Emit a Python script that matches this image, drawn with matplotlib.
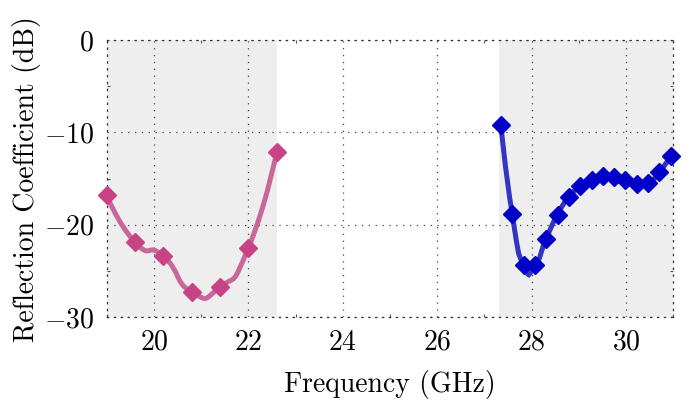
import numpy as np
import matplotlib
matplotlib.use("Agg")
import matplotlib.pyplot as plt
from matplotlib.path import Path
from matplotlib.patches import PathPatch
from matplotlib.ticker import MultipleLocator

plt.rcParams['font.family'] = 'serif'
plt.rcParams['font.serif'] = ['cmr10']
plt.rcParams['mathtext.fontset'] = 'cm'
plt.rcParams['axes.formatter.use_mathtext'] = True

# Data
freq_low = [19.0, 19.6, 20.2, 20.8, 21.4, 22.0, 22.6]
refl_low = [-16.8, -21.9, -23.4, -27.3, -26.75, -22.5, -12.1]

freq_high = [27.35, 27.59, 27.83, 28.07, 28.31, 28.55, 28.79, 29.03,
             29.27, 29.51, 29.75, 29.99, 30.23, 30.47, 30.71, 30.95]
refl_high = [-9.2, -18.85, -24.4, -24.4, -21.5, -18.9, -17.0, -15.85,
             -15.1, -14.75, -14.8, -15.2, -15.6, -15.5, -14.3, -12.5]

band_low = (19.0, 22.6)
band_high = (27.3, 31.0)

xticks = [20, 22, 24, 26, 28, 30]
yticks = [0, -10, -20, -30]


def smooth_path(xs, ys, k=0.31):
    p = np.column_stack([xs, ys]).astype(float)
    n = len(p)
    T = np.zeros_like(p)
    for i in range(1, n - 1):
        T[i] = p[i + 1] - p[i - 1]
    verts = [p[0]]
    codes = [Path.MOVETO]
    for i in range(n - 1):
        verts += [p[i] + k * T[i], p[i + 1] - k * T[i + 1], p[i + 1]]
        codes += [Path.CURVE4] * 3
    return Path(verts, codes)


fig = plt.figure(figsize=(6.89, 4.05), dpi=100)
ax = fig.add_axes([0.155, 0.217, 0.822, 0.684])

ax.axvspan(*band_low, color='#eeeeee', lw=0, zorder=0)
ax.axvspan(*band_high, color='#eeeeee', lw=0, zorder=0)

pink_line = '#c8689a'
pink_mark = '#c84384'
blue_line = '#3333c4'
blue_mark = '#0000c8'

ax.add_patch(PathPatch(smooth_path(freq_low, refl_low), fill=False,
                       edgecolor=pink_line, lw=3.6, capstyle='round', zorder=3))
ax.add_patch(PathPatch(smooth_path(freq_high, refl_high), fill=False,
                       edgecolor=blue_line, lw=3.6, capstyle='round', zorder=3))
ax.plot(freq_low, refl_low, linestyle='none', marker='D', ms=9.5,
        color=pink_mark, mec=pink_mark, zorder=4, clip_on=False)
ax.plot(freq_high, refl_high, linestyle='none', marker='D', ms=9.5,
        color=blue_mark, mec=blue_mark, zorder=4, clip_on=False)

ax.set_xlim(19, 31)
ax.set_ylim(-30, 0)
ax.set_xticks(xticks)
ax.set_yticks(yticks)
ax.xaxis.set_minor_locator(MultipleLocator(1))
ax.yaxis.set_minor_locator(MultipleLocator(5))

ax.grid(True, which='major', linestyle=(0, (1, 4.5)), color='#444444', lw=0.9)
for s in ax.spines.values():
    s.set_linestyle((0, (1, 4.5)))
    s.set_color('#333333')
    s.set_linewidth(0.9)

ax.tick_params(which='both', direction='in', top=True, right=True,
               color='#555555', labelsize=20)
ax.tick_params(which='major', length=0, pad=9)
ax.tick_params(which='minor', length=2.5, width=0.8)

ax.set_xlabel('Frequency (GHz)', fontsize=20, labelpad=10)
ax.set_ylabel('Reflection Coefficient (dB)', fontsize=20, labelpad=2)

fig.savefig('out.png', dpi=100)
